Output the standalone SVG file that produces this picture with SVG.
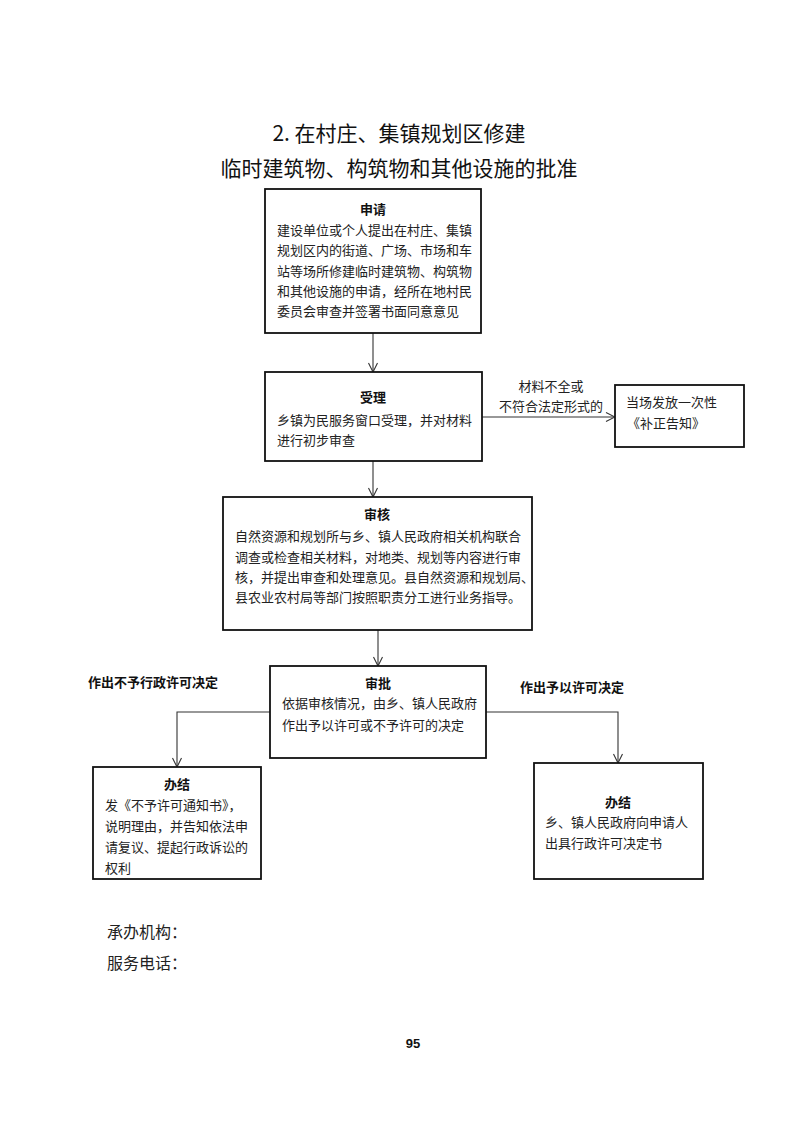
<svg xmlns="http://www.w3.org/2000/svg" width="793" height="1122" viewBox="0 0 793 1122">
<defs>
<style>
.t{font-family:"Noto Sans CJK SC","Noto Sans",sans-serif;font-size:21px;fill:#111;text-anchor:middle}
.h{font-family:"Noto Sans CJK SC",sans-serif;font-size:13px;font-weight:bold;fill:#111;text-anchor:middle}
.b{font-family:"Noto Sans CJK SC",sans-serif;font-size:13px;fill:#222}
.lb{font-family:"Noto Sans CJK SC",sans-serif;font-size:13px;font-weight:bold;fill:#111}
.f{font-family:"Noto Sans CJK SC",sans-serif;font-size:16px;fill:#222}
.box{fill:#fff;stroke:#111;stroke-width:1.8}
.c{fill:none;stroke:#333;stroke-width:1.1}
</style>
<marker id="ar" viewBox="0 0 10 10" refX="10" refY="5" markerWidth="10" markerHeight="10" markerUnits="userSpaceOnUse" orient="auto">
<path d="M1,0.5 L10,5 L1,9.5" fill="none" stroke="#333" stroke-width="1.1"/>
</marker>
</defs>
<rect width="793" height="1122" fill="#fff"/>

<g id="title">
<text class="t" x="399" y="141">2. 在村庄、集镇规划区修建</text>
<text class="t" x="399" y="176">临时建筑物、构筑物和其他设施的批准</text>
</g>

<g id="connectors">
<line class="c" x1="373" y1="333" x2="373" y2="372" marker-end="url(#ar)"/>
<line class="c" x1="482" y1="417" x2="615" y2="417" marker-end="url(#ar)"/>
<line class="c" x1="373" y1="461" x2="373" y2="497" marker-end="url(#ar)"/>
<line class="c" x1="378" y1="630" x2="378" y2="666" marker-end="url(#ar)"/>
<polyline class="c" points="270,712 177,712 177,767" marker-end="url(#ar)"/>
<polyline class="c" points="486,712 618,712 618,763" marker-end="url(#ar)"/>
<text class="b" x="551" y="391" text-anchor="middle">材料不全或</text>
<text class="b" x="551" y="411" text-anchor="middle">不符合法定形式的</text>
<text class="lb" x="88" y="687">作出不予行政许可决定</text>
<text class="lb" x="520" y="692">作出予以许可决定</text>
</g>

<g id="apply">
<rect class="box" x="265" y="189" width="216" height="144"/>
<text class="h" x="373" y="214">申请</text>
<text class="b" x="277" y="235">建设单位或个人提出在村庄、集镇</text>
<text class="b" x="277" y="255">规划区内的街道、广场、市场和车</text>
<text class="b" x="277" y="276">站等场所修建临时建筑物、构筑物</text>
<text class="b" x="277" y="296">和其他设施的申请，经所在地村民</text>
<text class="b" x="277" y="316">委员会审查并签署书面同意意见</text>
</g>

<g id="accept">
<rect class="box" x="265" y="372" width="217" height="89"/>
<text class="h" x="373" y="402">受理</text>
<text class="b" x="277" y="425">乡镇为民服务窗口受理，并对材料</text>
<text class="b" x="277" y="445">进行初步审查</text>
</g>

<g id="notice">
<rect class="box" x="615" y="385" width="129" height="62"/>
<text class="b" x="626" y="407">当场发放一次性</text>
<text class="b" x="627" y="428">《补正告知》</text>
</g>

<g id="review">
<rect class="box" x="223" y="497" width="309" height="133"/>
<text class="h" x="377" y="519">审核</text>
<text class="b" x="235" y="541">自然资源和规划所与乡、镇人民政府相关机构联合</text>
<text class="b" x="235" y="562">调查或检查相关材料，对地类、规划等内容进行审</text>
<text class="b" x="235" y="582">核，并提出审查和处理意见。县自然资源和规划局、</text>
<text class="b" x="235" y="602">县农业农村局等部门按照职责分工进行业务指导。</text>
</g>

<g id="approve">
<rect class="box" x="270" y="666" width="216" height="92"/>
<text class="h" x="378" y="688">审批</text>
<text class="b" x="282" y="708">依据审核情况，由乡、镇人民政府</text>
<text class="b" x="282" y="730">作出予以许可或不予许可的决定</text>
</g>

<g id="close-deny">
<rect class="box" x="93" y="767" width="168" height="112"/>
<text class="h" x="177" y="789">办结</text>
<text class="b" x="105" y="810">发《不予许可通知书》，</text>
<text class="b" x="105" y="831">说明理由，并告知依法申</text>
<text class="b" x="105" y="852">请复议、提起行政诉讼的</text>
<text class="b" x="105" y="873">权利</text>
</g>

<g id="close-grant">
<rect class="box" x="534" y="763" width="169" height="116"/>
<text class="h" x="618" y="807">办结</text>
<text class="b" x="545" y="827">乡、镇人民政府向申请人</text>
<text class="b" x="545" y="848">出具行政许可决定书</text>
</g>

<g id="footer">
<text class="f" x="107" y="938">承办机构：</text>
<text class="f" x="107" y="969">服务电话：</text>
<text x="413" y="1048" text-anchor="middle" font-family="Liberation Sans, Arial, sans-serif" font-size="13" font-weight="bold" fill="#111">95</text>
</g>
</svg>
